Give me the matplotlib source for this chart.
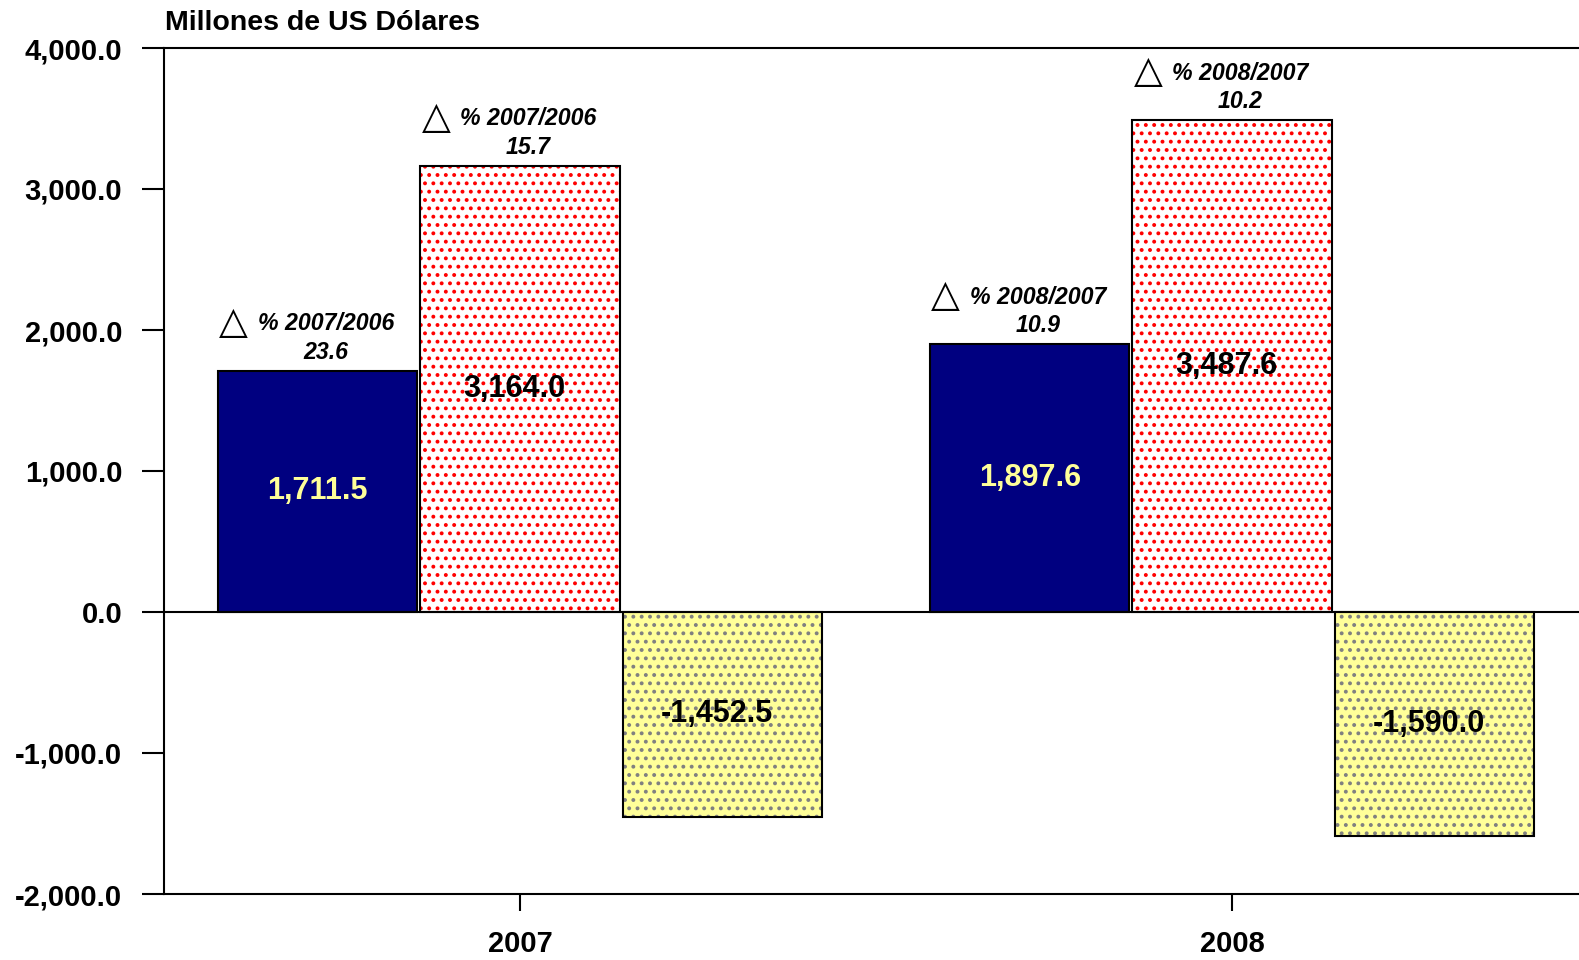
import numpy as np
import matplotlib
matplotlib.use("Agg")
import matplotlib.pyplot as plt

# Data
years = ["2007", "2008"]
blue_vals = [1711.5, 1897.6]
red_vals = [3164.0, 3487.6]
yellow_vals = [-1452.5, -1590.0]
blue_pct = [23.6, 10.9]
red_pct = [15.7, 10.2]
pct_labels = ["% 2007/2006", "% 2008/2007"]
yticks = [-2000, -1000, 0, 1000, 2000, 3000, 4000]

plt.rcParams['font.family'] = ['Liberation Sans', 'DejaVu Sans']
plt.rcParams['hatch.linewidth'] = 1.6

fig = plt.figure(figsize=(15.79, 9.6), dpi=100)
# axes runs a bit past the right edge of the figure, like the original
ax = fig.add_axes([164 / 1579, 66 / 960, 1424 / 1579, 846 / 960])

x = np.arange(len(years))
w = 0.28
off = 0.284

# blue bars
ax.bar(x - off, blue_vals, w, color="#000080", edgecolor="black", linewidth=1.5, zorder=2)
# dotted bars: hatch drawn first in dot colour, then black outline
ax.bar(x, red_vals, w, color="white", edgecolor="#ff0000", hatch="..", linewidth=0, zorder=2)
ax.bar(x, red_vals, w, fill=False, edgecolor="black", linewidth=1.5, zorder=3)
ax.bar(x + off, yellow_vals, w, color="#ffff99", edgecolor="#808080", hatch="..", linewidth=0, zorder=2)
ax.bar(x + off, yellow_vals, w, fill=False, edgecolor="black", linewidth=1.5, zorder=3)

ax.axhline(0, color="black", linewidth=1.5, zorder=4)

# values inside bars
for i in range(len(years)):
    ax.text(x[i] - off, blue_vals[i] / 2, f"{blue_vals[i]:,.1f}", ha="center", va="center",
            color="#ffff99", fontsize=22, fontweight="bold", zorder=5)
    ax.text(x[i] - 0.008, red_vals[i] / 2, f"{red_vals[i]:,.1f}", ha="center", va="center",
            color="black", fontsize=22, fontweight="bold", zorder=5)
    ax.text(x[i] + off - 0.007, yellow_vals[i] / 2, f"{yellow_vals[i]:,.1f}", ha="center", va="center",
            color="black", fontsize=22, fontweight="bold", zorder=5)

# growth annotations above bars
for i in range(len(years)):
    for xc, v, p in [(x[i] - off, blue_vals[i], blue_pct[i]), (x[i], red_vals[i], red_pct[i])]:
        ax.annotate(f"{pct_labels[i]}\n{p:.1f}", xy=(xc, v), xytext=(8, 7),
                    textcoords="offset pixels", ha="center", va="bottom",
                    fontsize=16.7, fontweight="bold", fontstyle="italic",
                    linespacing=1.3, zorder=5)
        ax.annotate("\u25b3", xy=(xc, v), xytext=(-84, 48),
                    textcoords="offset pixels", ha="center", va="center",
                    fontsize=27, family="DejaVu Sans", zorder=5)

ax.set_xlim(-0.5, 1.5)
ax.set_ylim(-2000, 4000)
ax.set_yticks(yticks)
ax.set_yticklabels([f"{t:,.1f}" for t in yticks])
ax.set_xticks(x)
ax.set_xticklabels(years)

ax.tick_params(axis="y", direction="out", length=16, width=1.5, pad=14, labelsize=21)
ax.tick_params(axis="x", direction="out", length=12, width=1.5, pad=14, labelsize=21)
for lab in ax.get_xticklabels() + ax.get_yticklabels():
    lab.set_fontweight("bold")

for s in ["left", "bottom", "top"]:
    ax.spines[s].set_linewidth(1.5)
ax.spines["right"].set_visible(False)

fig.text(165 / 1579, 1 - 23.5 / 960, "Millones de US Dólares", ha="left", va="center",
         fontsize=20.5, fontweight="bold")

fig.savefig("out.png", dpi=100)
